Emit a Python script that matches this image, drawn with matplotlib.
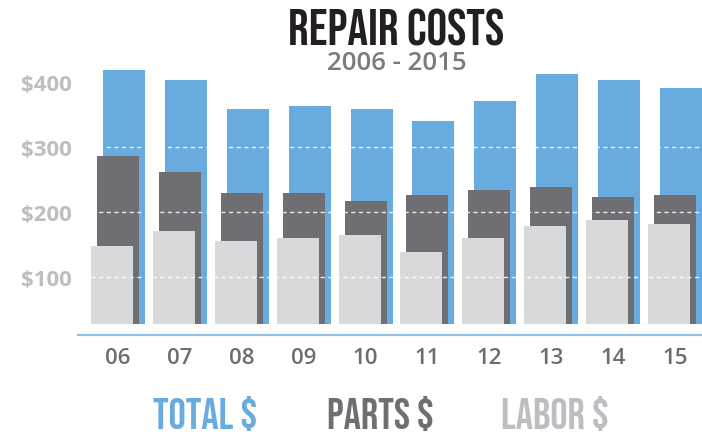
import matplotlib
matplotlib.use("Agg")
import matplotlib.pyplot as plt
import numpy as np

years = ["06", "07", "08", "09", "10", "11", "12", "13", "14", "15"]
total = [418, 403, 358, 363, 358, 340, 371, 412, 403, 391]
parts = [286, 262, 229, 229, 217, 226, 234, 238, 223, 226]
labor = [148, 171, 155, 160, 165, 138, 160, 178, 188, 182]
ytick_vals = [100, 200, 300, 400]
ytick_labels = ["$100", "$200", "$300", "$400"]
grid_vals = [100, 200, 300]

BLUE = "#68abdf"
DARK = "#6f6e72"
LIGHT = "#d8d9db"
AXBLUE = "#8fc0e8"
YLAB = "#bdbec1"
TICK = "#6d6c70"

sans = ["Open Sans", "DejaVu Sans"]
cond = ["Bebas Neue", "Oswald", "IBM Plex Sans Condensed", "DejaVu Sans"]

W, H = 702, 435
fig = plt.figure(figsize=(W / 100, H / 100), dpi=100)
ax = fig.add_axes([78 / W, 1 - 325 / H, 1 - 78 / W, (325 - 60) / H])

x = np.arange(len(years))
width = 0.6785
off = 0.097

ax.bar(x + off, total, width=width, color=BLUE, zorder=1)
ax.bar(x, parts, width=width, color=DARK, zorder=2)
ax.bar(x - off, labor, width=width, color=LIGHT, zorder=3)

for g in grid_vals:
    ax.axhline(g, xmin=(91 - 78) / (W - 78), color="white", lw=1.0,
               ls=(0, (3, 2.5)), alpha=0.85, zorder=5)

ax.set_xlim(-0.646, 9.435)
ax.set_ylim(27.7, 435.4)

for s in ["top", "right", "left"]:
    ax.spines[s].set_visible(False)
ax.spines["bottom"].set_position(("outward", 7.6))
ax.spines["bottom"].set_color(AXBLUE)
ax.spines["bottom"].set_linewidth(1.6)

ax.set_xticks(x)
ax.set_xticklabels(years)
ax.set_yticks(ytick_vals)
ax.set_yticklabels(ytick_labels)
ax.tick_params(axis="x", length=0, pad=9, labelcolor=TICK)
ax.tick_params(axis="y", length=0, pad=4.5, labelcolor=YLAB)
for lab in ax.get_yticklabels():
    lab.set_fontweight("bold")
    lab.set_family(sans)
    lab.set_fontsize(16)
for lab in ax.get_xticklabels():
    lab.set_fontweight("semibold")
    lab.set_family(sans)
    lab.set_fontsize(16)

fig.text(396.5 / W, 1 - 27 / H, "REPAIR COSTS", ha="center", va="center",
         fontsize=37, family=cond, color="#231f20")
fig.text(396.5 / W, 1 - 64 / H, "2006 - 2015", ha="center", va="center",
         fontsize=18.5, fontweight="semibold", family=sans, color="#7a797d")

legend_items = [("TOTAL $", BLUE, 205), ("PARTS $", DARK, 380), ("LABOR $", "#bdbec2", 555)]
for txt, col, cx in legend_items:
    fig.text(cx / W, 1 - 414 / H, txt, ha="center", va="center",
             fontsize=31, family=cond, color=col)

fig.savefig("out.png", dpi=100)
